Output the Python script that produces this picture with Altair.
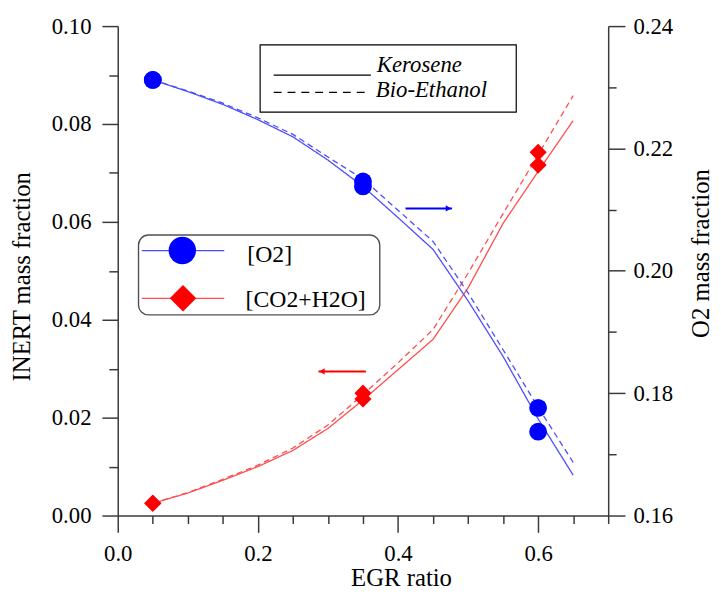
import altair as alt
import pandas as pd

# ---------------- data ----------------
egr_line = [0.05, 0.10, 0.15, 0.20, 0.25, 0.30, 0.35, 0.40, 0.45, 0.50, 0.55, 0.60, 0.65]
o2_kerosene = [0.2312, 0.2293, 0.2272, 0.2247, 0.2219, 0.2181, 0.2138, 0.2087, 0.2035, 0.1951, 0.1860, 0.1758, 0.1666]
o2_bioethanol = [0.2312, 0.2294, 0.2274, 0.2250, 0.2223, 0.2186, 0.2150, 0.2099, 0.2048, 0.1964, 0.1871, 0.1777, 0.1687]
inert_kerosene = [0.0025, 0.0046, 0.0072, 0.0100, 0.0133, 0.0178, 0.0236, 0.0298, 0.0360, 0.0465, 0.0597, 0.0703, 0.0807]
inert_bioethanol = [0.0025, 0.0047, 0.0074, 0.0103, 0.0138, 0.0185, 0.0247, 0.0312, 0.0380, 0.0495, 0.0617, 0.0737, 0.0858]

egr_marks = [0.05, 0.05, 0.35, 0.35, 0.60, 0.60]
o2_marks = [0.2312, 0.2312, 0.2146, 0.2138, 0.1776, 0.1737]
inert_marks = [0.0025, 0.0025, 0.0250, 0.0238, 0.0742, 0.0716]

fuels = ["Kerosene", "Bio-Ethanol"]
series = ["[O2]", "[CO2+H2O]"]

x_ticks = [0.0, 0.05, 0.1, 0.15, 0.2, 0.25, 0.3, 0.35, 0.4, 0.45, 0.5, 0.55, 0.6, 0.65, 0.7]
inert_ticks = [0.0, 0.01, 0.02, 0.03, 0.04, 0.05, 0.06, 0.07, 0.08, 0.09, 0.1]
o2_ticks = [0.16, 0.17, 0.18, 0.19, 0.2, 0.21, 0.22, 0.23, 0.24]

# arrow annotations in data units (x: EGR ratio, y: own axis)
o2_arrow = {"x": [0.4107], "x_end": [0.477], "head": [0.472], "y": [0.2102]}
inert_arrow = {"x": [0.2865], "x_end": [0.3542], "head": [0.2914], "y": [0.02944]}

# ---------------- styling ----------------
FONT = "Liberation Serif, 'Times New Roman', 'DejaVu Serif', serif"
AX = "#3a3a3a"
BLUE_LINE, RED_LINE = "#4d4dff", "#ff4d4d"
BLUE, RED = "#0000ff", "#ff0000"


def major(step):
    k = round(1 / step)
    return f"abs(datum.value*{k} - round(datum.value*{k})) < 0.001"


common_axis = dict(grid=False, domainColor=AX, tickColor=AX, domainWidth=1.5, tickWidth=1.5,
                   labelFont=FONT, labelFontSize=23, labelColor="black", labelOverlap=False,
                   titleFont=FONT, titleFontSize=25, titleFontWeight="normal", titleColor="black",
                   titleAlign="center", titleBaseline="alphabetic")

x_axis = alt.Axis(values=x_ticks, title="EGR ratio",
                  labelExpr=f"{major(0.2)} ? format(datum.value, '.1f') : ''",
                  tickSize={"condition": {"test": major(0.2), "value": 17}, "value": 8},
                  labelPadding=10, labelFlush=False, titleX=286.5, titleY=71, **common_axis)

y_left_axis = alt.Axis(orient="left", values=inert_ticks, title="INERT mass fraction",
                       labelExpr=f"{major(0.02)} ? format(datum.value, '.2f') : ''",
                       tickSize={"condition": {"test": major(0.02), "value": 16}, "value": 9},
                       labelPadding=11, titleAngle=270, titleX=-89, titleY=253, **common_axis)

y_right_axis = alt.Axis(orient="right", values=o2_ticks, title="O2 mass fraction",
                        labelExpr=f"{major(0.02)} ? format(datum.value, '.2f') : ''",
                        tickSize={"condition": {"test": major(0.02), "value": 17}, "value": 8},
                        labelPadding=8, titleAngle=270, titleX=101, titleY=229.5, **common_axis)

xs = alt.Scale(domain=[0, 0.7], nice=False, zero=False)
ys_left = alt.Scale(domain=[0, 0.1], nice=False, zero=False)
ys_right = alt.Scale(domain=[0.16, 0.24], nice=False, zero=False)
dash_scale = alt.Scale(domain=fuels, range=[[1, 0], [6, 4]])

n = len(egr_line)
inert_df = pd.DataFrame({"egr": egr_line * 2, "value": inert_kerosene + inert_bioethanol,
                         "fuel": [fuels[0]] * n + [fuels[1]] * n})
o2_df = pd.DataFrame({"egr": egr_line * 2, "value": o2_kerosene + o2_bioethanol,
                      "fuel": [fuels[0]] * n + [fuels[1]] * n})
inert_pts = pd.DataFrame({"egr": egr_marks, "value": inert_marks})
o2_pts = pd.DataFrame({"egr": egr_marks, "value": o2_marks})

X = alt.X("egr:Q", scale=xs, axis=x_axis)
YL = alt.Y("value:Q", scale=ys_left, axis=y_left_axis)
YR = alt.Y("value:Q", scale=ys_right, axis=y_right_axis)

red_lines = alt.Chart(inert_df).mark_line(color=RED_LINE, strokeWidth=1.3).encode(
    x=X, y=YL, strokeDash=alt.StrokeDash("fuel:N", scale=dash_scale, legend=None))
red_points = alt.Chart(inert_pts).mark_point(shape="diamond", filled=True, size=300, color=RED, opacity=1).encode(x=X, y=YL)
ia = pd.DataFrame(inert_arrow)
red_arrow = alt.Chart(ia).mark_rule(color=RED, strokeWidth=2).encode(
    x=alt.X("x:Q", scale=xs, axis=x_axis), x2="x_end:Q", y=alt.Y("y:Q", scale=ys_left, axis=y_left_axis))
red_head = alt.Chart(ia).mark_point(shape="triangle-left", filled=True, size=40, color=RED, opacity=1).encode(
    x=alt.X("head:Q", scale=xs, axis=x_axis), y=alt.Y("y:Q", scale=ys_left, axis=y_left_axis))

blue_lines = alt.Chart(o2_df).mark_line(color=BLUE_LINE, strokeWidth=1.3).encode(
    x=X, y=YR, strokeDash=alt.StrokeDash("fuel:N", scale=dash_scale, legend=None))
blue_points = alt.Chart(o2_pts).mark_point(shape="circle", filled=True, size=324, color=BLUE, opacity=1).encode(x=X, y=YR)
oa = pd.DataFrame(o2_arrow)
blue_arrow = alt.Chart(oa).mark_rule(color=BLUE, strokeWidth=2).encode(
    x=alt.X("x:Q", scale=xs, axis=x_axis), x2="x_end:Q", y=alt.Y("y:Q", scale=ys_right, axis=y_right_axis))
blue_head = alt.Chart(oa).mark_point(shape="triangle-right", filled=True, size=40, color=BLUE, opacity=1).encode(
    x=alt.X("head:Q", scale=xs, axis=x_axis), y=alt.Y("y:Q", scale=ys_right, axis=y_right_axis))

left = alt.layer(red_lines, red_points, red_arrow, red_head)
right = alt.layer(blue_lines, blue_points, blue_arrow, blue_head)

one = pd.DataFrame({"k": [0]})

# ---- fuel key (top box) ----
key_box = alt.Chart(one).mark_rect(fill="white", stroke="black", strokeWidth=1.2).encode(
    x=alt.value(144), x2=alt.value(403), y=alt.value(19), y2=alt.value(87))
key_solid = alt.Chart(one).mark_rule(color="black", strokeWidth=1.2).encode(
    x=alt.value(157.7), x2=alt.value(256), y=alt.value(49.5))
key_dash = alt.Chart(one).mark_rule(color="black", strokeWidth=1.2, strokeDash=[8, 6]).encode(
    x=alt.value(157.7), x2=alt.value(255), y=alt.value(67))
key_t1 = alt.Chart(one).mark_text(text=fuels[0], align="left", baseline="alphabetic", font=FONT,
                                  fontStyle="italic", fontSize=23, color="black").encode(
    x=alt.value(262), y=alt.value(46.3))
key_t2 = alt.Chart(one).mark_text(text=fuels[1], align="left", baseline="alphabetic", font=FONT,
                                  fontStyle="italic", fontSize=23, color="black").encode(
    x=alt.value(261), y=alt.value(71.5))

# ---- species key (rounded box) ----
sp_box = alt.Chart(one).mark_rect(fill="white", stroke="#505050", strokeWidth=1.4, cornerRadius=10).encode(
    x=alt.value(21), x2=alt.value(265), y=alt.value(211.3), y2=alt.value(292))
sp_l1 = alt.Chart(one).mark_rule(color=BLUE_LINE, strokeWidth=1.3).encode(
    x=alt.value(24.3), x2=alt.value(107.7), y=alt.value(227))
sp_m1 = alt.Chart(one).mark_point(shape="circle", filled=True, size=767, color=BLUE, opacity=1).encode(
    x=alt.value(65.3), y=alt.value(227))
sp_t1 = alt.Chart(one).mark_text(text=series[0], align="left", baseline="alphabetic", font=FONT,
                                 fontSize=24, color="black").encode(x=alt.value(131), y=alt.value(238.5))
sp_l2 = alt.Chart(one).mark_rule(color=RED_LINE, strokeWidth=1.3).encode(
    x=alt.value(24.3), x2=alt.value(107.7), y=alt.value(275.3))
sp_m2 = alt.Chart(one).mark_point(shape="diamond", filled=True, size=720, color=RED, opacity=1).encode(
    x=alt.value(66), y=alt.value(275.3))
sp_t2 = alt.Chart(one).mark_text(text=series[1], align="left", baseline="alphabetic", font=FONT,
                                 fontSize=24, color="black").encode(x=alt.value(129.3), y=alt.value(283.7))

chart = alt.layer(
    left, right,
    key_box, key_solid, key_dash, key_t1, key_t2,
    sp_box, sp_l1, sp_m1, sp_t1, sp_l2, sp_m2, sp_t2,
).resolve_scale(y="independent").properties(
    width=496, height=495,
    padding={"left": 111, "top": 15, "right": 106, "bottom": 72},
    autosize=alt.AutoSizeParams(type="none"),
    background="white",
).configure_view(stroke="transparent")

chart.save("out.html", embed_options={"renderer": "svg", "actions": False})
